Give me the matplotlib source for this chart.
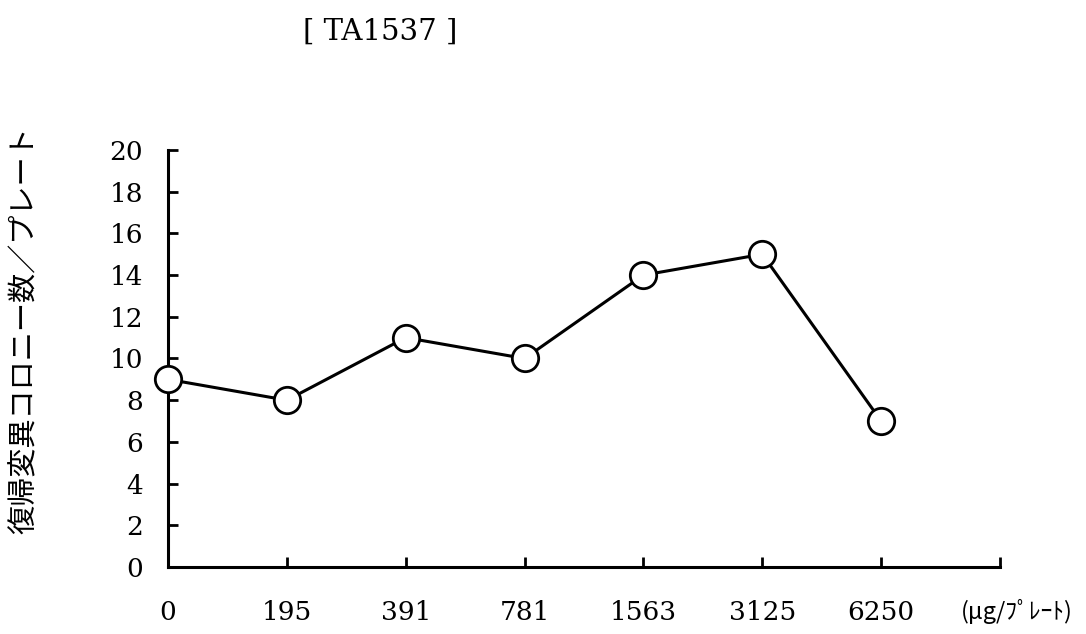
import matplotlib
matplotlib.use("Agg")
import matplotlib.pyplot as plt

# doses (µg/plate) and revertant colonies per plate, TA1537
doses = ["0", "195", "391", "781", "1563", "3125", "6250"]
colonies = [9, 8, 11, 10, 14, 15, 7]
y_ticks = [0, 2, 4, 6, 8, 10, 12, 14, 16, 18, 20]

title = "[ TA1537 ]"
y_label = "復帰変異コロニー数／プレート"
unit_label = "(μg/ﾌﾟﾚｰﾄ)"

serif = ["DejaVu Serif"]
jp = ["Noto Sans CJK JP", "DejaVu Sans"]

fig = plt.figure(figsize=(10.86, 6.34), dpi=100)
ax = fig.add_axes([0.1547, 0.1057, 0.7661, 0.6577])

positions = list(range(len(doses)))
ax.plot(positions, colonies, color="black", linewidth=2.2,
        marker="o", markersize=19, markerfacecolor="white",
        markeredgecolor="black", markeredgewidth=2.0, clip_on=False, zorder=3)

ax.set_xlim(0, len(doses))
ax.set_ylim(0, 20)
ax.set_xticks(positions + [len(doses)])
ax.set_xticklabels(doses + [""], family=serif, fontsize=19)
ax.set_yticks(y_ticks)
ax.set_yticklabels([str(v) for v in y_ticks], family=serif, fontsize=19)

for side in ("top", "right"):
    ax.spines[side].set_visible(False)
for side in ("left", "bottom"):
    ax.spines[side].set_linewidth(2.2)

ax.tick_params(axis="y", direction="in", length=7, width=2.0, pad=18)
ax.tick_params(axis="x", direction="in", length=7, width=2.0, pad=24)

fig.text(380 / 1086, 1 - 32 / 634, title, family=serif, fontsize=21,
         ha="center", va="center")
fig.text(25 / 1086, 1 - 330 / 634, y_label, family=jp, fontsize=21,
         rotation=90, ha="center", va="center")
fig.text(1017 / 1086, 1 - 611 / 634, unit_label, family=jp, fontsize=17,
         ha="center", va="center")

fig.savefig("out.png", dpi=100, facecolor="white")
